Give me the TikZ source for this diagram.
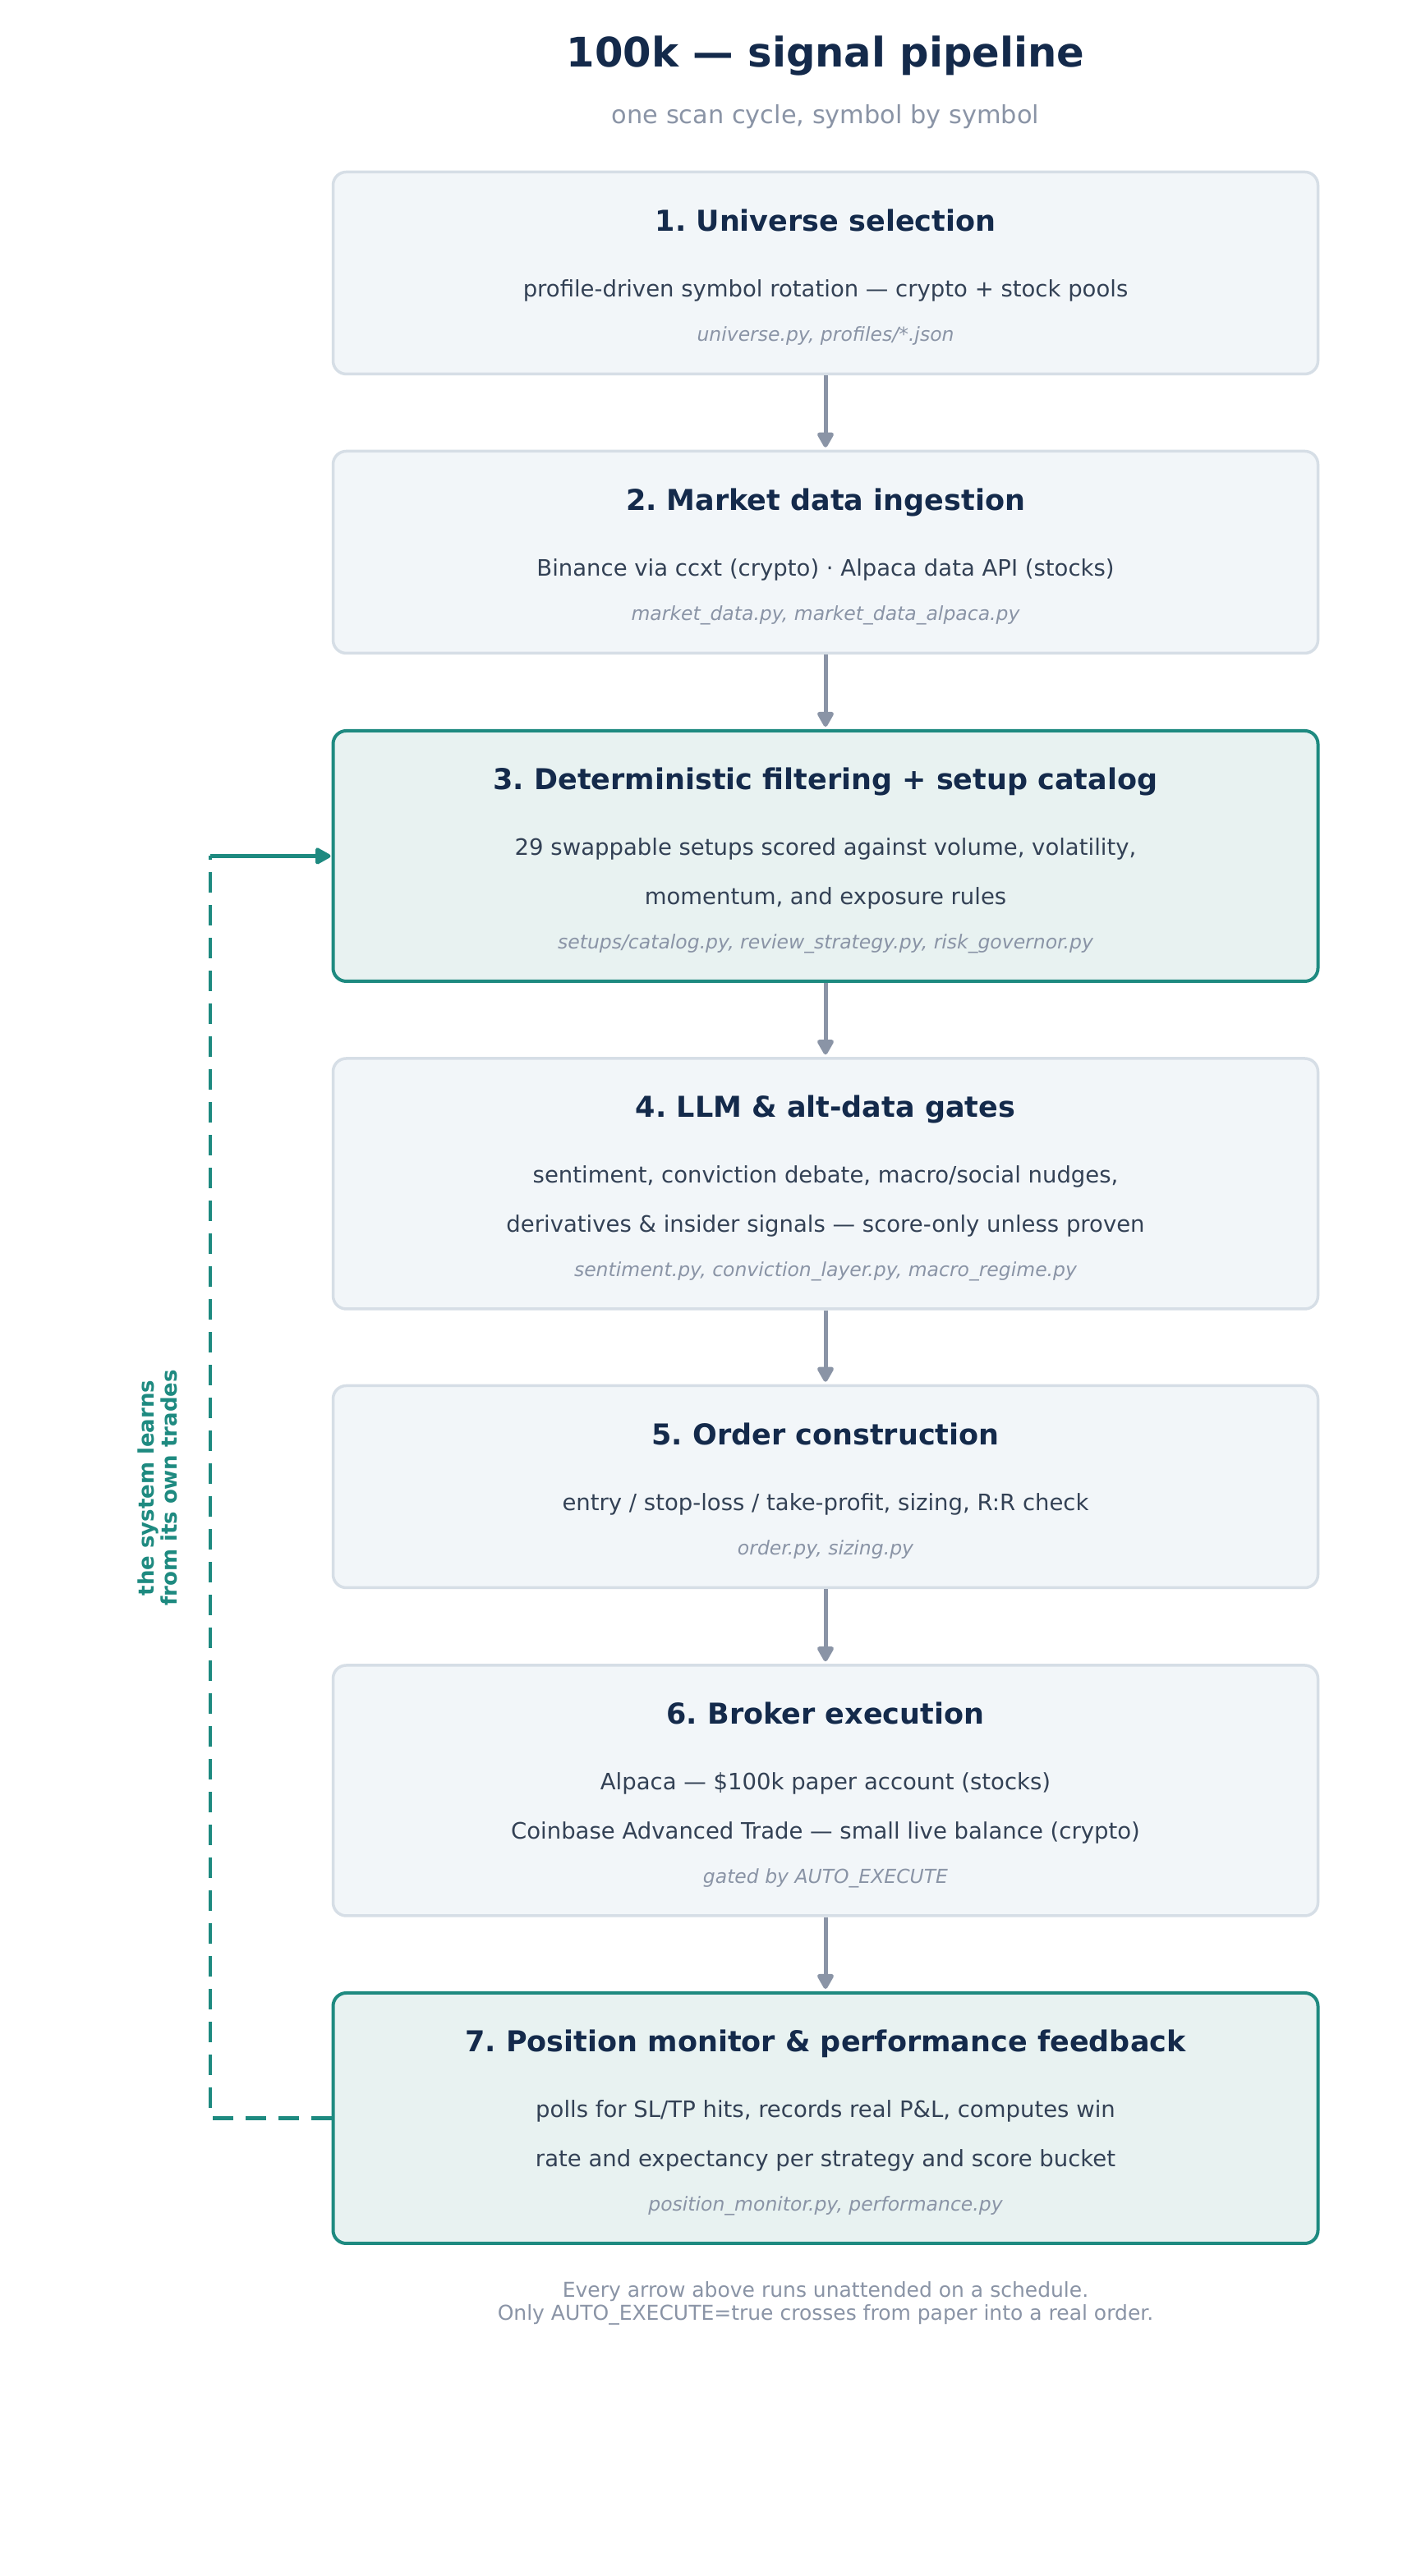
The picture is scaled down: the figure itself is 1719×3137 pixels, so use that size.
\documentclass[tikz,border=0pt]{standalone}
\usepackage{fontspec}
\setmainfont{DejaVu Sans}
\usetikzlibrary{arrows.meta}
\definecolor{headnavy}{HTML}{142A4B}
\definecolor{bodyslate}{HTML}{334155}
\definecolor{notegray}{HTML}{8A94A6}
\definecolor{boxfill}{HTML}{F2F6F9}
\definecolor{boxedge}{HTML}{D6DEE6}
\definecolor{loopteal}{HTML}{1E8A80}
\definecolor{loopfill}{HTML}{E8F2F1}
\frenchspacing
\begin{document}
\begin{tikzpicture}[>={Triangle[length=21bp,width=22bp,round]},line join=bevel,
  stage/.style={draw=boxedge,fill=boxfill,line width=3.5bp,rounded corners=16bp,minimum width=1199bp,minimum height=246bp,inner sep=0pt},
  tall/.style={minimum height=305bp},
  keystage/.style={draw=loopteal,fill=loopfill,line width=4bp},
  stitle/.style={anchor=base,text=headnavy,font=\bfseries\fontsize{35bp}{42bp}\selectfont},
  sbody/.style={anchor=base,text=bodyslate,font=\fontsize{27.5bp}{33bp}\selectfont},
  sfile/.style={anchor=base,text=notegray,font=\itshape\fontsize{23.5bp}{28bp}\selectfont},
  flow/.style={draw=notegray,line width=5bp,shorten >=3bp},
  feedback/.style={draw=loopteal,line width=4.5bp},
  ]
%%
\path [fill=white,use as bounding box] (0bp,0bp) rectangle (1719bp,3137bp);
  \node (head) at (1005bp,3055bp) [anchor=base,text=headnavy,font=\bfseries\fontsize{49.6bp}{58bp}\selectfont] {100k — signal pipeline};
  \node (subhead) at (1005bp,2986bp) [anchor=base,text=notegray,font=\fontsize{30.4bp}{36bp}\selectfont] {one scan cycle, symbol by symbol};
%%
  \node (s1) at (1005bp,2804.5bp) [stage] {};
  \node (s1_title) at (1005bp,2855bp) [stitle] {1. Universe selection};
  \node (s1_body) at (1005bp,2775bp) [sbody] {profile-driven symbol rotation — crypto + stock pools};
  \node (s1_file) at (1005bp,2721bp) [sfile] {universe.py, profiles/*.json};
%
  \node (s2) at (1005bp,2464.5bp) [stage] {};
  \node (s2_title) at (1005bp,2515bp) [stitle] {2. Market data ingestion};
  \node (s2_body) at (1005bp,2435bp) [sbody] {Binance via ccxt (crypto) · Alpaca data API (stocks)};
  \node (s2_file) at (1005bp,2381bp) [sfile] {market\_data.py, market\_data\_alpaca.py};
%
  \node (s3) at (1005bp,2094.5bp) [stage,tall,keystage] {};
  \node (s3_title) at (1005bp,2175bp) [stitle] {3. Deterministic filtering + setup catalog};
  \node (s3_body_a) at (1005bp,2095bp) [sbody] {29 swappable setups scored against volume, volatility,};
  \node (s3_body_b) at (1005bp,2035bp) [sbody] {momentum, and exposure rules};
  \node (s3_file) at (1005bp,1981bp) [sfile] {setups/catalog.py, review\_strategy.py, risk\_governor.py};
%
  \node (s4) at (1005bp,1695.5bp) [stage,tall] {};
  \node (s4_title) at (1005bp,1776bp) [stitle] {4. LLM \& alt-data gates};
  \node (s4_body_a) at (1005bp,1696bp) [sbody] {sentiment, conviction debate, macro/social nudges,};
  \node (s4_body_b) at (1005bp,1636bp) [sbody] {derivatives \& insider signals — score-only unless proven};
  \node (s4_file) at (1005bp,1582bp) [sfile] {sentiment.py, conviction\_layer.py, macro\_regime.py};
%
  \node (s5) at (1005bp,1326.5bp) [stage] {};
  \node (s5_title) at (1005bp,1377bp) [stitle] {5. Order construction};
  \node (s5_body) at (1005bp,1297bp) [sbody] {entry / stop-loss / take-profit, sizing, R:R check};
  \node (s5_file) at (1005bp,1243bp) [sfile] {order.py, sizing.py};
%
  \node (s6) at (1005bp,956.5bp) [stage,tall] {};
  \node (s6_title) at (1005bp,1037bp) [stitle] {6. Broker execution};
  \node (s6_body_a) at (1005bp,957bp) [sbody] {Alpaca — \$100k paper account (stocks)};
  \node (s6_body_b) at (1005bp,897bp) [sbody] {Coinbase Advanced Trade — small live balance (crypto)};
  \node (s6_file) at (1005bp,843bp) [sfile] {gated by AUTO\_EXECUTE};
%
  \node (s7) at (1005bp,557.5bp) [stage,tall,keystage] {};
  \node (s7_title) at (1005bp,638bp) [stitle] {7. Position monitor \& performance feedback};
  \node (s7_body_a) at (1005bp,558bp) [sbody] {polls for SL/TP hits, records real P\&L, computes win};
  \node (s7_body_b) at (1005bp,498bp) [sbody] {rate and expectancy per strategy and score bucket};
  \node (s7_file) at (1005bp,444bp) [sfile] {position\_monitor.py, performance.py};
%%
  \draw [flow,->] (s1) -- (s2);
  \draw [flow,->] (s2) -- (s3);
  \draw [flow,->] (s3) -- (s4);
  \draw [flow,->] (s4) -- (s5);
  \draw [flow,->] (s5) -- (s6);
  \draw [flow,->] (s6) -- (s7);
%%
  \coordinate (fb_turn) at (256bp,2094.5bp);
  \draw [feedback,dash pattern=on 25bp off 15bp] (s7.west) -| (fb_turn);
  \draw [feedback,->,shorten >=1bp] (fb_turn) -- (s3.west);
  \node (fb_note) at (192bp,1325bp) [rotate=90,align=center,text=loopteal,font=\bfseries\fontsize{26bp}{28bp}\selectfont] {the system learns\\from its own trades};
%
  \node (footer) at (1005bp,332bp) [align=center,text=notegray,font=\fontsize{25bp}{28bp}\selectfont] {Every arrow above runs unattended on a schedule.\\Only AUTO\_EXECUTE=true crosses from paper into a real order.};
%
\end{tikzpicture}
\end{document}
